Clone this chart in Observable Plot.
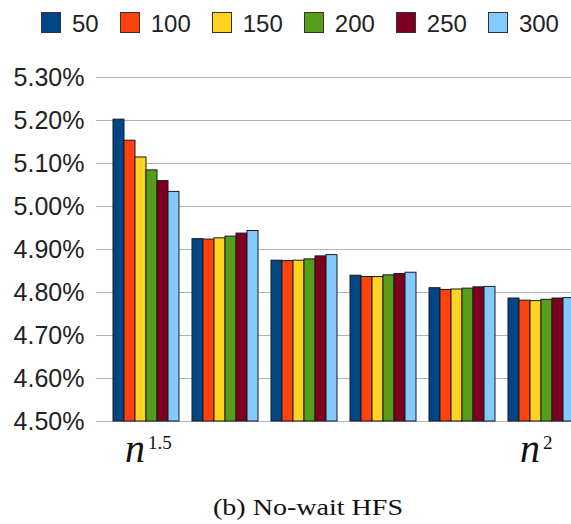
<!DOCTYPE html>
<html>
<head>
<meta charset="utf-8">
<script src="https://cdn.jsdelivr.net/npm/d3@7"></script>
<script src="https://cdn.jsdelivr.net/npm/@observablehq/plot@0.6"></script>
<style>
  html, body { margin: 0; padding: 0; background: #fff; overflow: hidden; }
  body { position: relative; width: 571px; height: 524px; }
  #legend {
    position: absolute; left: 41px; top: 12px; display: flex;
    font: 24px "Liberation Sans", Arial, sans-serif; line-height: 24px;
    color: #222; white-space: nowrap;
  }
  #legend .item { display: flex; align-items: flex-start; margin-right: 21px; }
  #legend .sw {
    box-sizing: border-box; width: 20px; height: 21px;
    border: 1px solid #333; margin-right: 11px;
  }
  #chart { position: absolute; left: 0; top: 44px; width: 571px; height: 446px; overflow: hidden; }
  #chart svg { max-width: none !important; }
  #caption {
    position: absolute; left: 308px; top: 496px;
    font: 23px "Liberation Serif", "Times New Roman", serif; line-height: 23px;
    color: #111; white-space: nowrap;
    transform: translateX(-50%) scaleX(1.22); transform-origin: center;
  }
</style>
</head>
<body>
<div id="legend"></div>
<div id="chart"></div>
<div id="caption">(b) No-wait HFS</div>
<script>
// Series (legend entries) and their colours
const series = ["50", "100", "150", "200", "250", "300"];
const colors = ["#004586", "#ff420e", "#ffd320", "#579d1c", "#7e0021", "#83caff"];

// Six groups along the horizontal axis; only the first and last are labelled n^k
const groups = ["G1", "G2", "G3", "G4", "G5", "G6"];
const exponents = ["1.5", "", "", "", "", "2"];

// Percentage values per series, one per group
const v50  = [5.202, 4.924, 4.874, 4.839, 4.810, 4.786];
const v100 = [5.153, 4.923, 4.873, 4.836, 4.806, 4.781];
const v150 = [5.114, 4.926, 4.874, 4.836, 4.807, 4.780];
const v200 = [5.084, 4.930, 4.877, 4.840, 4.809, 4.783];
const v250 = [5.059, 4.937, 4.884, 4.843, 4.812, 4.786];
const v300 = [5.034, 4.943, 4.887, 4.846, 4.813, 4.787];

// Y axis ticks
const yTicks = [4.5, 4.6, 4.7, 4.8, 4.9, 5.0, 5.1, 5.2, 5.3];

const seriesValues = [v50, v100, v150, v200, v250, v300];
const rows = [];
series.forEach((s, j) => seriesValues[j].forEach((v, i) => rows.push({group: groups[i], series: s, value: v})));
const labelRows = groups.map((g, i) => ({group: g, exp: exponents[i]})).filter(d => d.exp);

// Legend
const legend = document.getElementById("legend");
series.forEach((s, i) => {
  const item = document.createElement("div");
  item.className = "item";
  const sw = document.createElement("div");
  sw.className = "sw";
  sw.style.background = colors[i];
  const label = document.createElement("span");
  label.textContent = s;
  item.append(sw, label);
  legend.append(item);
});

const W = 582, ML = 105, MR = 1;
const bandW = (W - ML - MR) / groups.length;
const grey = "#b3b3b3";

const chart = Plot.plot({
  width: W,
  height: 446,
  marginTop: 33,
  marginBottom: 69,
  marginLeft: ML,
  marginRight: MR,
  style: {fontFamily: "'Liberation Sans', Arial, sans-serif", color: "#222", background: "#fff", overflow: "visible", maxWidth: "none"},
  fx: {domain: groups, padding: 0, axis: null},
  x: {domain: series, paddingInner: 0, paddingOuter: 0.46, axis: null},
  y: {domain: [4.5, 5.3], axis: null},
  color: {domain: series, range: colors},
  marks: [
    Plot.gridY(yTicks, {stroke: grey, strokeOpacity: 1}),
    Plot.axisY(yTicks, {
      label: null,
      tickSize: 10, tickPadding: 12, fontSize: 25,
      tickFormat: d => d.toFixed(2) + "%",
      stroke: grey, fill: "#222"
    }),
    // vertical axis line at the left edge of the first group
    Plot.ruleX([groups[0]], {fx: d => d, insetBottom: -9, dx: -bandW / 2, stroke: grey}),
    // group boundary ticks below the baseline
    Plot.ruleX(groups, {fx: d => d, y1: 4.5, y2: 4.5, insetBottom: -9, dx: -bandW / 2, stroke: grey}),
    Plot.barY(rows, {
      fx: "group", x: "series", y1: 4.5, y2: "value",
      fill: "series", stroke: "#1a1a1a", strokeWidth: 1
    }),
    Plot.text(labelRows, {
      fx: "group", text: () => "n", frameAnchor: "bottom",
      dx: -11, dy: 40, fontSize: 40, fontStyle: "italic",
      fontFamily: "'Liberation Serif', 'Times New Roman', serif", fill: "#111"
    }),
    Plot.text(labelRows, {
      fx: "group", text: "exp", frameAnchor: "bottom", textAnchor: "start",
      dx: 2, dy: 27, fontSize: 19,
      fontFamily: "'Liberation Serif', 'Times New Roman', serif", fill: "#111"
    })
  ]
});
document.getElementById("chart").append(chart);
</script>
</body>
</html>
